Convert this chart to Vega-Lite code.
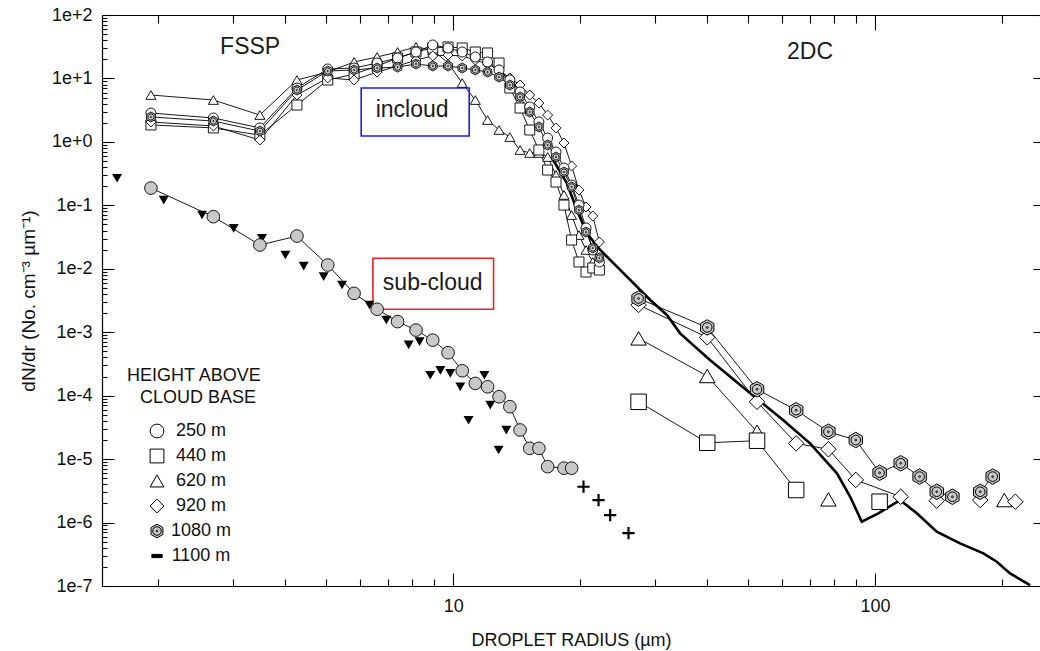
{
"$schema": "https://vega.github.io/schema/vega-lite/v6.json",
"width": 938,
"height": 571,
"autosize": {"type": "none"},
"padding": {"left": 102, "top": 15, "right": 0, "bottom": 65},
"background": "white",
"config": {
  "view": {"stroke": null},
  "font": "Liberation Sans",
  "axis": {"grid": false, "labelFont": "Liberation Sans", "titleFont": "Liberation Sans", "labelColor": "#111111", "titleColor": "#111111", "domainColor": "#000000", "tickColor": "#000000", "domainWidth": 1.2, "tickWidth": 1.1, "titleFontWeight": "normal", "labelOverlap": false, "labelFlush": false, "labelBound": false},
  "legend": {"labelFont": "Liberation Sans", "titleFont": "Liberation Sans"}
},
"datasets": {
  "incloud": [
    {"height":"620 m","probe":"FSSP","seg":"620F","r":1.92,"dNdr":5.48},
    {"height":"620 m","probe":"FSSP","seg":"620F","r":2.7,"dNdr":4.57},
    {"height":"620 m","probe":"FSSP","seg":"620F","r":3.48,"dNdr":2.65},
    {"height":"620 m","probe":"FSSP","seg":"620F","r":4.26,"dNdr":9.45},
    {"height":"620 m","probe":"FSSP","seg":"620F","r":5.04,"dNdr":12.6},
    {"height":"620 m","probe":"FSSP","seg":"620F","r":5.82,"dNdr":18.2},
    {"height":"620 m","probe":"FSSP","seg":"620F","r":6.6,"dNdr":21.8},
    {"height":"620 m","probe":"FSSP","seg":"620F","r":7.38,"dNdr":26.1},
    {"height":"620 m","probe":"FSSP","seg":"620F","r":8.16,"dNdr":31.3},
    {"height":"620 m","probe":"FSSP","seg":"620F","r":8.94,"dNdr":28.0},
    {"height":"620 m","probe":"FSSP","seg":"620F","r":9.72,"dNdr":17.5},
    {"height":"620 m","probe":"FSSP","seg":"620F","r":10.5,"dNdr":8.47},
    {"height":"620 m","probe":"FSSP","seg":"620F","r":11.28,"dNdr":4.57},
    {"height":"620 m","probe":"FSSP","seg":"620F","r":12.06,"dNdr":2.21},
    {"height":"620 m","probe":"FSSP","seg":"620F","r":12.84,"dNdr":1.54},
    {"height":"620 m","probe":"FSSP","seg":"620F","r":13.62,"dNdr":1.19},
    {"height":"620 m","probe":"FSSP","seg":"620F","r":14.4,"dNdr":0.745},
    {"height":"620 m","probe":"FSSP","seg":"620F","r":15.18,"dNdr":0.668},
    {"height":"620 m","probe":"FSSP","seg":"620F","r":15.96,"dNdr":0.668},
    {"height":"620 m","probe":"FSSP","seg":"620F","r":16.74,"dNdr":0.578},
    {"height":"620 m","probe":"FSSP","seg":"620F","r":17.52,"dNdr":0.301},
    {"height":"620 m","probe":"FSSP","seg":"620F","r":18.3,"dNdr":0.146},
    {"height":"620 m","probe":"FSSP","seg":"620F","r":19.08,"dNdr":0.0703},
    {"height":"620 m","probe":"FSSP","seg":"620F","r":19.86,"dNdr":0.034},
    {"height":"620 m","probe":"FSSP","seg":"620F","r":20.64,"dNdr":0.0198},
    {"height":"620 m","probe":"FSSP","seg":"620F","r":21.42,"dNdr":0.0128},
    {"height":"620 m","probe":"FSSP","seg":"620F","r":22.2,"dNdr":0.0103},
    {"height":"440 m","probe":"FSSP","seg":"440F","r":1.92,"dNdr":1.85},
    {"height":"440 m","probe":"FSSP","seg":"440F","r":2.7,"dNdr":1.66},
    {"height":"440 m","probe":"FSSP","seg":"440F","r":3.48,"dNdr":1.28},
    {"height":"440 m","probe":"FSSP","seg":"440F","r":4.26,"dNdr":3.81},
    {"height":"440 m","probe":"FSSP","seg":"440F","r":5.04,"dNdr":9.45},
    {"height":"440 m","probe":"FSSP","seg":"440F","r":5.82,"dNdr":11.7},
    {"height":"440 m","probe":"FSSP","seg":"440F","r":6.6,"dNdr":15.7},
    {"height":"440 m","probe":"FSSP","seg":"440F","r":7.38,"dNdr":21.0},
    {"height":"440 m","probe":"FSSP","seg":"440F","r":8.16,"dNdr":26.1},
    {"height":"440 m","probe":"FSSP","seg":"440F","r":8.94,"dNdr":30.2},
    {"height":"440 m","probe":"FSSP","seg":"440F","r":9.72,"dNdr":31.3},
    {"height":"440 m","probe":"FSSP","seg":"440F","r":10.5,"dNdr":30.2},
    {"height":"440 m","probe":"FSSP","seg":"440F","r":11.28,"dNdr":26.1},
    {"height":"440 m","probe":"FSSP","seg":"440F","r":12.06,"dNdr":25.2},
    {"height":"440 m","probe":"FSSP","seg":"440F","r":12.84,"dNdr":17.5},
    {"height":"440 m","probe":"FSSP","seg":"440F","r":13.62,"dNdr":7.06},
    {"height":"440 m","probe":"FSSP","seg":"440F","r":14.4,"dNdr":3.42},
    {"height":"440 m","probe":"FSSP","seg":"440F","r":15.18,"dNdr":1.54},
    {"height":"440 m","probe":"FSSP","seg":"440F","r":15.96,"dNdr":0.745},
    {"height":"440 m","probe":"FSSP","seg":"440F","r":16.74,"dNdr":0.36},
    {"height":"440 m","probe":"FSSP","seg":"440F","r":17.52,"dNdr":0.233},
    {"height":"440 m","probe":"FSSP","seg":"440F","r":18.3,"dNdr":0.101},
    {"height":"440 m","probe":"FSSP","seg":"440F","r":19.08,"dNdr":0.0284},
    {"height":"440 m","probe":"FSSP","seg":"440F","r":19.86,"dNdr":0.0128},
    {"height":"440 m","probe":"FSSP","seg":"440F","r":20.64,"dNdr":0.00889},
    {"height":"440 m","probe":"FSSP","seg":"440F","r":21.42,"dNdr":0.0103},
    {"height":"440 m","probe":"FSSP","seg":"440F","r":22.2,"dNdr":0.00955},
    {"height":"920 m","probe":"FSSP","seg":"920F","r":1.92,"dNdr":2.06},
    {"height":"920 m","probe":"FSSP","seg":"920F","r":2.7,"dNdr":1.78},
    {"height":"920 m","probe":"FSSP","seg":"920F","r":3.48,"dNdr":1.07},
    {"height":"920 m","probe":"FSSP","seg":"920F","r":4.26,"dNdr":5.48},
    {"height":"920 m","probe":"FSSP","seg":"920F","r":5.04,"dNdr":10.2},
    {"height":"920 m","probe":"FSSP","seg":"920F","r":5.82,"dNdr":9.45},
    {"height":"920 m","probe":"FSSP","seg":"920F","r":6.6,"dNdr":12.6},
    {"height":"920 m","probe":"FSSP","seg":"920F","r":7.38,"dNdr":15.7},
    {"height":"920 m","probe":"FSSP","seg":"920F","r":8.16,"dNdr":19.5},
    {"height":"920 m","probe":"FSSP","seg":"920F","r":8.94,"dNdr":22.6},
    {"height":"920 m","probe":"FSSP","seg":"920F","r":9.72,"dNdr":23.4},
    {"height":"920 m","probe":"FSSP","seg":"920F","r":10.5,"dNdr":22.6},
    {"height":"920 m","probe":"FSSP","seg":"920F","r":11.28,"dNdr":19.5},
    {"height":"920 m","probe":"FSSP","seg":"920F","r":12.06,"dNdr":16.9},
    {"height":"920 m","probe":"FSSP","seg":"920F","r":12.84,"dNdr":13.6},
    {"height":"920 m","probe":"FSSP","seg":"920F","r":13.62,"dNdr":10.2},
    {"height":"920 m","probe":"FSSP","seg":"920F","r":14.4,"dNdr":7.88},
    {"height":"920 m","probe":"FSSP","seg":"920F","r":15.18,"dNdr":5.48},
    {"height":"920 m","probe":"FSSP","seg":"920F","r":15.96,"dNdr":4.1},
    {"height":"920 m","probe":"FSSP","seg":"920F","r":16.74,"dNdr":2.65},
    {"height":"920 m","probe":"FSSP","seg":"920F","r":17.52,"dNdr":1.66},
    {"height":"920 m","probe":"FSSP","seg":"920F","r":18.3,"dNdr":0.96},
    {"height":"920 m","probe":"FSSP","seg":"920F","r":19.08,"dNdr":0.417},
    {"height":"920 m","probe":"FSSP","seg":"920F","r":19.86,"dNdr":0.174},
    {"height":"920 m","probe":"FSSP","seg":"920F","r":20.64,"dNdr":0.0942},
    {"height":"920 m","probe":"FSSP","seg":"920F","r":21.42,"dNdr":0.0679},
    {"height":"920 m","probe":"FSSP","seg":"920F","r":22.2,"dNdr":0.0264},
    {"height":"250 m","probe":"FSSP","seg":"250F","r":1.92,"dNdr":2.85},
    {"height":"250 m","probe":"FSSP","seg":"250F","r":2.7,"dNdr":2.38},
    {"height":"250 m","probe":"FSSP","seg":"250F","r":3.48,"dNdr":1.66},
    {"height":"250 m","probe":"FSSP","seg":"250F","r":4.26,"dNdr":7.06},
    {"height":"250 m","probe":"FSSP","seg":"250F","r":5.04,"dNdr":14.1},
    {"height":"250 m","probe":"FSSP","seg":"250F","r":5.82,"dNdr":14.6},
    {"height":"250 m","probe":"FSSP","seg":"250F","r":6.6,"dNdr":17.5},
    {"height":"250 m","probe":"FSSP","seg":"250F","r":7.38,"dNdr":21.0},
    {"height":"250 m","probe":"FSSP","seg":"250F","r":8.16,"dNdr":26.1},
    {"height":"250 m","probe":"FSSP","seg":"250F","r":8.94,"dNdr":33.7},
    {"height":"250 m","probe":"FSSP","seg":"250F","r":9.72,"dNdr":30.2},
    {"height":"250 m","probe":"FSSP","seg":"250F","r":10.5,"dNdr":26.1},
    {"height":"250 m","probe":"FSSP","seg":"250F","r":11.28,"dNdr":21.8},
    {"height":"250 m","probe":"FSSP","seg":"250F","r":12.06,"dNdr":18.2},
    {"height":"250 m","probe":"FSSP","seg":"250F","r":12.84,"dNdr":13.6},
    {"height":"250 m","probe":"FSSP","seg":"250F","r":13.62,"dNdr":9.45},
    {"height":"250 m","probe":"FSSP","seg":"250F","r":14.4,"dNdr":6.11},
    {"height":"250 m","probe":"FSSP","seg":"250F","r":15.18,"dNdr":3.55},
    {"height":"250 m","probe":"FSSP","seg":"250F","r":15.96,"dNdr":2.06},
    {"height":"250 m","probe":"FSSP","seg":"250F","r":16.74,"dNdr":1.15},
    {"height":"250 m","probe":"FSSP","seg":"250F","r":17.52,"dNdr":0.693},
    {"height":"250 m","probe":"FSSP","seg":"250F","r":18.3,"dNdr":0.387},
    {"height":"250 m","probe":"FSSP","seg":"250F","r":19.08,"dNdr":0.209},
    {"height":"250 m","probe":"FSSP","seg":"250F","r":19.86,"dNdr":0.101},
    {"height":"250 m","probe":"FSSP","seg":"250F","r":20.64,"dNdr":0.044},
    {"height":"250 m","probe":"FSSP","seg":"250F","r":21.42,"dNdr":0.0198},
    {"height":"250 m","probe":"FSSP","seg":"250F","r":22.2,"dNdr":0.0128},
    {"height":"1080 m","probe":"FSSP","seg":"1080F","r":1.92,"dNdr":2.47},
    {"height":"1080 m","probe":"FSSP","seg":"1080F","r":2.7,"dNdr":2.13},
    {"height":"1080 m","probe":"FSSP","seg":"1080F","r":3.48,"dNdr":1.48},
    {"height":"1080 m","probe":"FSSP","seg":"1080F","r":4.26,"dNdr":6.57},
    {"height":"1080 m","probe":"FSSP","seg":"1080F","r":5.04,"dNdr":13.1},
    {"height":"1080 m","probe":"FSSP","seg":"1080F","r":5.82,"dNdr":13.6},
    {"height":"1080 m","probe":"FSSP","seg":"1080F","r":6.6,"dNdr":14.6},
    {"height":"1080 m","probe":"FSSP","seg":"1080F","r":7.38,"dNdr":15.1},
    {"height":"1080 m","probe":"FSSP","seg":"1080F","r":8.16,"dNdr":16.9},
    {"height":"1080 m","probe":"FSSP","seg":"1080F","r":8.94,"dNdr":15.7},
    {"height":"1080 m","probe":"FSSP","seg":"1080F","r":9.72,"dNdr":15.7},
    {"height":"1080 m","probe":"FSSP","seg":"1080F","r":10.5,"dNdr":14.6},
    {"height":"1080 m","probe":"FSSP","seg":"1080F","r":11.28,"dNdr":13.6},
    {"height":"1080 m","probe":"FSSP","seg":"1080F","r":12.06,"dNdr":12.6},
    {"height":"1080 m","probe":"FSSP","seg":"1080F","r":12.84,"dNdr":10.5},
    {"height":"1080 m","probe":"FSSP","seg":"1080F","r":13.62,"dNdr":7.88},
    {"height":"1080 m","probe":"FSSP","seg":"1080F","r":14.4,"dNdr":5.1},
    {"height":"1080 m","probe":"FSSP","seg":"1080F","r":15.18,"dNdr":2.96},
    {"height":"1080 m","probe":"FSSP","seg":"1080F","r":15.96,"dNdr":1.72},
    {"height":"1080 m","probe":"FSSP","seg":"1080F","r":16.74,"dNdr":0.893},
    {"height":"1080 m","probe":"FSSP","seg":"1080F","r":17.52,"dNdr":0.578},
    {"height":"1080 m","probe":"FSSP","seg":"1080F","r":18.3,"dNdr":0.335},
    {"height":"1080 m","probe":"FSSP","seg":"1080F","r":19.08,"dNdr":0.195},
    {"height":"1080 m","probe":"FSSP","seg":"1080F","r":19.86,"dNdr":0.0843},
    {"height":"1080 m","probe":"FSSP","seg":"1080F","r":20.64,"dNdr":0.0379},
    {"height":"1080 m","probe":"FSSP","seg":"1080F","r":21.42,"dNdr":0.0212},
    {"height":"1080 m","probe":"FSSP","seg":"1080F","r":22.2,"dNdr":0.0148},
    {"height":"620 m","probe":"2DC","seg":"620D","r":27.5,"dNdr":0.0008},
    {"height":"620 m","probe":"2DC","seg":"620D","r":40,"dNdr":0.000204},
    {"height":"620 m","probe":"2DC","seg":"620D","r":52.5,"dNdr":0.000027},
    {"height":"620 m","probe":"2DC","seg":"620D2","r":77.5,"dNdr":0.00000232},
    {"height":"620 m","probe":"2DC","seg":"620D3","r":202.5,"dNdr":0.00000226},
    {"height":"440 m","probe":"2DC","seg":"440D","r":27.5,"dNdr":0.00008},
    {"height":"440 m","probe":"2DC","seg":"440D","r":40,"dNdr":0.0000181},
    {"height":"440 m","probe":"2DC","seg":"440D","r":52.5,"dNdr":0.0000195},
    {"height":"440 m","probe":"2DC","seg":"440D","r":65,"dNdr":0.00000326},
    {"height":"440 m","probe":"2DC","seg":"440D2","r":102.5,"dNdr":0.00000213},
    {"height":"920 m","probe":"2DC","seg":"920D","r":27.5,"dNdr":0.00269},
    {"height":"920 m","probe":"2DC","seg":"920D","r":40,"dNdr":0.00083},
    {"height":"920 m","probe":"2DC","seg":"920D","r":52.5,"dNdr":0.00008},
    {"height":"920 m","probe":"2DC","seg":"920D","r":65,"dNdr":0.0000177},
    {"height":"920 m","probe":"2DC","seg":"920D","r":77.5,"dNdr":0.0000143},
    {"height":"920 m","probe":"2DC","seg":"920D","r":90,"dNdr":0.0000047},
    {"height":"920 m","probe":"2DC","seg":"920D","r":115,"dNdr":0.00000255},
    {"height":"920 m","probe":"2DC","seg":"920D2","r":140,"dNdr":0.00000221},
    {"height":"920 m","probe":"2DC","seg":"920D3","r":177.5,"dNdr":0.00000226},
    {"height":"920 m","probe":"2DC","seg":"920D4","r":215,"dNdr":0.00000213},
    {"height":"1080 m","probe":"2DC","seg":"1080D","r":27.5,"dNdr":0.0034},
    {"height":"1080 m","probe":"2DC","seg":"1080D","r":40,"dNdr":0.00119},
    {"height":"1080 m","probe":"2DC","seg":"1080D","r":52.5,"dNdr":0.000126},
    {"height":"1080 m","probe":"2DC","seg":"1080D","r":65,"dNdr":0.000059},
    {"height":"1080 m","probe":"2DC","seg":"1080D","r":77.5,"dNdr":0.000027},
    {"height":"1080 m","probe":"2DC","seg":"1080D","r":90,"dNdr":0.00002},
    {"height":"1080 m","probe":"2DC","seg":"1080D","r":102.5,"dNdr":0.0000061},
    {"height":"1080 m","probe":"2DC","seg":"1080D","r":115,"dNdr":0.0000086},
    {"height":"1080 m","probe":"2DC","seg":"1080D","r":127.5,"dNdr":0.0000053},
    {"height":"1080 m","probe":"2DC","seg":"1080D","r":140,"dNdr":0.00000306},
    {"height":"1080 m","probe":"2DC","seg":"1080D","r":152.5,"dNdr":0.00000255},
    {"height":"1080 m","probe":"2DC","seg":"1080D2","r":177.5,"dNdr":0.00000306},
    {"height":"1080 m","probe":"2DC","seg":"1080D2","r":190,"dNdr":0.0000053}
  ],
  "cloud1100": [
    {"r":17.26,"dNdr":0.518},{"r":18.6,"dNdr":0.222},{"r":19.64,"dNdr":0.0843},{"r":20.74,"dNdr":0.0362},
    {"r":22.3,"dNdr":0.0198},{"r":24.43,"dNdr":0.0108},{"r":25.8,"dNdr":0.0075},{"r":29.3,"dNdr":0.00322},
    {"r":32.1,"dNdr":0.00187},{"r":34.5,"dNdr":0.00096},{"r":40.6,"dNdr":0.000365},{"r":50.6,"dNdr":0.000109},
    {"r":60.6,"dNdr":0.000041},{"r":70.1,"dNdr":0.0000177},{"r":81.2,"dNdr":0.00000597},{"r":87.3,"dNdr":0.00000255},
    {"r":93.0,"dNdr":0.00000103},{"r":101.8,"dNdr":0.0000014},{"r":114.6,"dNdr":0.00000226},{"r":125.6,"dNdr":0.0000014},
    {"r":140.0,"dNdr":0.00000072},{"r":159.0,"dNdr":0.00000047},{"r":180.6,"dNdr":0.000000327},{"r":194.3,"dNdr":0.000000241},
    {"r":208.9,"dNdr":0.000000158},{"r":233,"dNdr":0.000000103}
  ],
  "subcircles": [
    {"r":1.92,"dNdr":0.187},{"r":2.7,"dNdr":0.0662},{"r":3.48,"dNdr":0.0237},{"r":4.26,"dNdr":0.0328},
    {"r":5.04,"dNdr":0.01146},{"r":5.82,"dNdr":0.0041},{"r":6.6,"dNdr":0.0023},{"r":7.38,"dNdr":0.00147},
    {"r":8.16,"dNdr":0.00108},{"r":8.94,"dNdr":0.00075},{"r":9.72,"dNdr":0.000475},{"r":10.5,"dNdr":0.000247},
    {"r":11.28,"dNdr":0.000156},{"r":12.06,"dNdr":0.000138},{"r":12.84,"dNdr":0.000096},{"r":13.62,"dNdr":0.000067},
    {"r":14.4,"dNdr":0.0000288},{"r":15.18,"dNdr":0.0000148},{"r":15.96,"dNdr":0.0000148},{"r":16.74,"dNdr":0.0000076},
    {"r":18.3,"dNdr":0.0000072},{"r":19.08,"dNdr":0.0000072}
  ],
  "subtriangles": [
    {"r":1.596,"dNdr":0.267},{"r":2.059,"dNdr":0.121},{"r":2.538,"dNdr":0.0703},{"r":3.016,"dNdr":0.0434},
    {"r":3.521,"dNdr":0.0302},{"r":4.0,"dNdr":0.0165},{"r":4.42,"dNdr":0.011},{"r":4.93,"dNdr":0.0075},
    {"r":5.45,"dNdr":0.00555},{"r":6.33,"dNdr":0.00269},{"r":6.94,"dNdr":0.00156},{"r":7.84,"dNdr":0.00063},
    {"r":8.32,"dNdr":0.00071},{"r":8.82,"dNdr":0.00021},{"r":9.32,"dNdr":0.00025},{"r":9.84,"dNdr":0.000225},
    {"r":10.39,"dNdr":0.000138},{"r":10.87,"dNdr":0.000041},{"r":11.85,"dNdr":0.00021},{"r":12.24,"dNdr":0.000071},
    {"r":12.81,"dNdr":0.0000139},{"r":13.36,"dNdr":0.0000287}
  ],
  "subplus": [
    {"r":20.36,"dNdr":0.00000367},{"r":22.1,"dNdr":0.00000226},{"r":23.55,"dNdr":0.00000131},{"r":26.03,"dNdr":0.00000068}
  ],
  "boxes": [
    {"label":"incloud","x1":6.05,"x2":10.91,"y1":7.06,"y2":1.24},
    {"label":"sub-cloud","x1":6.45,"x2":12.46,"y1":0.01462,"y2":0.002296}
  ],
  "notes": [
    {"label":"FSSP","x":3.3,"y":31.3},
    {"label":"2DC","x":70.1,"y":26.1},
    {"label":"incloud","x":7.99,"y":3.18},
    {"label":"sub-cloud","x":8.94,"y":0.00596}
  ]
},
"layer": [
  {
    "data": {"name": "incloud"},
    "mark": {"type": "line", "color": "#000000", "strokeWidth": 0.9, "clip": true},
    "encoding": {
      "x": {"field": "r", "type": "quantitative", "scale": {"type": "log", "domain": [1.47, 246], "nice": false},
        "axis": {"orient": "bottom", "values": [2,3,4,5,6,7,8,9,10,20,30,40,50,60,70,80,90,100,200],
          "labelExpr": "datum.value == 10 ? '10' : (datum.value == 100 ? '100' : '')",
          "tickSize": {"condition": {"test": "datum.value == 10 || datum.value == 100", "value": -13}, "value": -7},
          "labelPadding": 24, "labelFontSize": 18, "title": "DROPLET RADIUS (µm)", "titleFontSize": 18, "titlePadding": 10}},
      "y": {"field": "dNdr", "type": "quantitative", "scale": {"type": "log", "domain": [1e-7, 100], "nice": false},
        "axis": {"orient": "left",
          "values": [1e-7,2e-7,3e-7,4e-7,5e-7,6e-7,7e-7,8e-7,9e-7,1e-6,2e-6,3e-6,4e-6,5e-6,6e-6,7e-6,8e-6,9e-6,1e-5,2e-5,3e-5,4e-5,5e-5,6e-5,7e-5,8e-5,9e-5,1e-4,2e-4,3e-4,4e-4,5e-4,6e-4,7e-4,8e-4,9e-4,0.001,0.002,0.003,0.004,0.005,0.006,0.007,0.008,0.009,0.01,0.02,0.03,0.04,0.05,0.06,0.07,0.08,0.09,0.1,0.2,0.3,0.4,0.5,0.6,0.7,0.8,0.9,1,2,3,4,5,6,7,8,9,10,20,30,40,50,60,70,80,90,100],
          "labelExpr": "abs(log(datum.value)/LN10 - round(log(datum.value)/LN10)) < 0.01 ? format(datum.value, '.0e') : ''",
          "tickSize": {"condition": {"test": "abs(log(datum.value)/LN10 - round(log(datum.value)/LN10)) < 0.01", "value": -12}, "value": -5},
          "labelPadding": 22, "labelFontSize": 18, "title": "dN/dr (No. cm⁻³ µm⁻¹)", "titleFontSize": 19, "titlePadding": 13}},
      "detail": {"field": "seg", "type": "nominal"}
    }
  },
  {
    "data": {"name": "cloud1100"},
    "mark": {"type": "line", "color": "#000000", "strokeWidth": 2.6, "clip": true},
    "encoding": {
      "x": {"field": "r", "type": "quantitative", "scale": {"type": "log", "domain": [1.47, 246], "nice": false},
        "axis": {"orient": "top", "values": [2,3,4,5,6,7,8,9,10,20,30,40,50,60,70,80,90,100,200], "labels": false, "title": null,
          "tickSize": {"condition": {"test": "datum.value == 10 || datum.value == 100", "value": -15}, "value": -8}}},
      "y": {"field": "dNdr", "type": "quantitative", "scale": {"type": "log", "domain": [1e-7, 100], "nice": false},
        "axis": {"orient": "right", "values": [1e-7,1e-6,1e-5,1e-4,0.001,0.01,0.1,1,10,100], "labels": false, "domain": false, "title": null, "tickSize": -7}}
    }
  },
  {
    "data": {"name": "subcircles"},
    "mark": {"type": "line", "color": "#000000", "strokeWidth": 0.9, "clip": true},
    "encoding": {
      "x": {"field": "r", "type": "quantitative", "scale": {"type": "log", "domain": [1.47, 246], "nice": false}, "axis": null},
      "y": {"field": "dNdr", "type": "quantitative", "scale": {"type": "log", "domain": [1e-7, 100], "nice": false}, "axis": null}
    }
  },
  {
    "data": {"name": "boxes"},
    "transform": [{"filter": "datum.label == 'incloud'"}],
    "mark": {"type": "rect", "fill": "white", "fillOpacity": 0, "stroke": "#1a1aff", "strokeWidth": 1.6},
    "encoding": {
      "x": {"field": "x1", "type": "quantitative", "scale": {"type": "log", "domain": [1.47, 246], "nice": false}, "axis": null},
      "x2": {"field": "x2"},
      "y": {"field": "y1", "type": "quantitative", "scale": {"type": "log", "domain": [1e-7, 100], "nice": false}, "axis": null},
      "y2": {"field": "y2"}
    }
  },
  {
    "data": {"name": "boxes"},
    "transform": [{"filter": "datum.label == 'sub-cloud'"}],
    "mark": {"type": "rect", "fill": "white", "fillOpacity": 0, "stroke": "#ee2020", "strokeWidth": 1.6},
    "encoding": {
      "x": {"field": "x1", "type": "quantitative", "scale": {"type": "log", "domain": [1.47, 246], "nice": false}, "axis": null},
      "x2": {"field": "x2"},
      "y": {"field": "y1", "type": "quantitative", "scale": {"type": "log", "domain": [1e-7, 100], "nice": false}, "axis": null},
      "y2": {"field": "y2"}
    }
  },
  {
    "data": {"name": "subtriangles"},
    "mark": {"type": "point", "shape": "triangle-down", "filled": true, "color": "#000000", "size": 100, "opacity": 1, "clip": true},
    "encoding": {
      "x": {"field": "r", "type": "quantitative", "scale": {"type": "log", "domain": [1.47, 246], "nice": false}, "axis": null},
      "y": {"field": "dNdr", "type": "quantitative", "scale": {"type": "log", "domain": [1e-7, 100], "nice": false}, "axis": null}
    }
  },
  {
    "data": {"name": "subcircles"},
    "mark": {"type": "point", "shape": "circle", "filled": true, "fill": "#c8c8c8", "stroke": "#000000", "strokeWidth": 0.9, "size": 160, "opacity": 1, "clip": true},
    "encoding": {
      "x": {"field": "r", "type": "quantitative", "scale": {"type": "log", "domain": [1.47, 246], "nice": false}, "axis": null},
      "y": {"field": "dNdr", "type": "quantitative", "scale": {"type": "log", "domain": [1e-7, 100], "nice": false}, "axis": null}
    }
  },
  {
    "data": {"name": "subplus"},
    "mark": {"type": "point", "shape": "M-1,0L1,0M0,-1L0,1", "filled": false, "stroke": "#000000", "strokeWidth": 2.2, "size": 150, "opacity": 1, "clip": true},
    "encoding": {
      "x": {"field": "r", "type": "quantitative", "scale": {"type": "log", "domain": [1.47, 246], "nice": false}, "axis": null},
      "y": {"field": "dNdr", "type": "quantitative", "scale": {"type": "log", "domain": [1e-7, 100], "nice": false}, "axis": null}
    }
  },
  {
    "data": {"name": "incloud"},
    "transform": [{"filter": "datum.probe == 'FSSP'"}],
    "mark": {"type": "point", "filled": true, "strokeWidth": 0.9, "size": 100, "opacity": 1, "clip": true},
    "encoding": {
      "x": {"field": "r", "type": "quantitative", "scale": {"type": "log", "domain": [1.47, 246], "nice": false}, "axis": null},
      "y": {"field": "dNdr", "type": "quantitative", "scale": {"type": "log", "domain": [1e-7, 100], "nice": false}, "axis": null},
      "shape": {"field": "height", "type": "nominal",
        "scale": {"domain": ["250 m", "440 m", "620 m", "920 m", "1080 m", "1100 m"],
          "range": ["circle", "square", "triangle-up", "diamond", "M0,-1L0.866,-0.5L0.866,0.5L0,1L-0.866,0.5L-0.866,-0.5Z M0.62,0A0.62,0.62 0 1,1 -0.62,0A0.62,0.62 0 1,1 0.62,0Z M0.12,0A0.12,0.12 0 1,1 -0.12,0A0.12,0.12 0 1,1 0.12,0Z", "M-0.75,-0.24L0.75,-0.24L0.75,0.24L-0.75,0.24Z"]},
        "legend": {"title": ["HEIGHT ABOVE", "\u2800CLOUD BASE"], "orient": "none", "legendX": 25, "legendY": 352, "titleFontSize": 18, "titleFontWeight": "normal", "titleColor": "#111111", "titleAlign": "left", "titleAnchor": "start", "titleLineHeight": 22, "titlePadding": 15, "labelFontSize": 18, "labelColor": "#111111", "labelAlign": "center", "labelOffset": 35, "symbolSize": 190, "symbolStrokeWidth": 1, "symbolOffset": 21, "rowPadding": 7}},
      "fill": {"field": "height", "type": "nominal",
        "scale": {"domain": ["250 m", "440 m", "620 m", "920 m", "1080 m", "1100 m"], "range": ["#ffffff", "#ffffff", "#ffffff", "#ffffff", "#c8c8c8", "#000000"]},
        "legend": {"title": ["HEIGHT ABOVE", "\u2800CLOUD BASE"], "orient": "none", "legendX": 25, "legendY": 352, "titleFontSize": 18, "titleFontWeight": "normal", "titleColor": "#111111", "titleAlign": "left", "titleAnchor": "start", "titleLineHeight": 22, "titlePadding": 15, "labelFontSize": 18, "labelColor": "#111111", "labelAlign": "center", "labelOffset": 35, "symbolSize": 190, "symbolStrokeWidth": 1, "symbolOffset": 21, "rowPadding": 7}},
      "stroke": {"field": "height", "type": "nominal",
        "scale": {"domain": ["250 m", "440 m", "620 m", "920 m", "1080 m", "1100 m"], "range": ["#000000", "#000000", "#000000", "#000000", "#000000", "#000000"]},
        "legend": {"title": ["HEIGHT ABOVE", "\u2800CLOUD BASE"], "orient": "none", "legendX": 25, "legendY": 352, "titleFontSize": 18, "titleFontWeight": "normal", "titleColor": "#111111", "titleAlign": "left", "titleAnchor": "start", "titleLineHeight": 22, "titlePadding": 15, "labelFontSize": 18, "labelColor": "#111111", "labelAlign": "center", "labelOffset": 35, "symbolSize": 190, "symbolStrokeWidth": 1, "symbolOffset": 21, "rowPadding": 7}}
    }
  },
  {
    "data": {"name": "incloud"},
    "transform": [{"filter": "datum.probe == '2DC'"}],
    "mark": {"type": "point", "filled": true, "strokeWidth": 1, "size": 240, "opacity": 1, "clip": true},
    "encoding": {
      "x": {"field": "r", "type": "quantitative", "scale": {"type": "log", "domain": [1.47, 246], "nice": false}, "axis": null},
      "y": {"field": "dNdr", "type": "quantitative", "scale": {"type": "log", "domain": [1e-7, 100], "nice": false}, "axis": null},
      "shape": {"field": "height", "type": "nominal",
        "scale": {"domain": ["250 m", "440 m", "620 m", "920 m", "1080 m", "1100 m"],
          "range": ["circle", "square", "triangle-up", "diamond", "M0,-1L0.866,-0.5L0.866,0.5L0,1L-0.866,0.5L-0.866,-0.5Z M0.62,0A0.62,0.62 0 1,1 -0.62,0A0.62,0.62 0 1,1 0.62,0Z M0.12,0A0.12,0.12 0 1,1 -0.12,0A0.12,0.12 0 1,1 0.12,0Z", "M-0.75,-0.24L0.75,-0.24L0.75,0.24L-0.75,0.24Z"]},
        "legend": {"title": ["HEIGHT ABOVE", "\u2800CLOUD BASE"], "orient": "none", "legendX": 25, "legendY": 352, "titleFontSize": 18, "titleFontWeight": "normal", "titleColor": "#111111", "titleAlign": "left", "titleAnchor": "start", "titleLineHeight": 22, "titlePadding": 15, "labelFontSize": 18, "labelColor": "#111111", "labelAlign": "center", "labelOffset": 35, "symbolSize": 190, "symbolStrokeWidth": 1, "symbolOffset": 21, "rowPadding": 7}},
      "fill": {"field": "height", "type": "nominal",
        "scale": {"domain": ["250 m", "440 m", "620 m", "920 m", "1080 m", "1100 m"], "range": ["#ffffff", "#ffffff", "#ffffff", "#ffffff", "#c8c8c8", "#000000"]},
        "legend": {"title": ["HEIGHT ABOVE", "\u2800CLOUD BASE"], "orient": "none", "legendX": 25, "legendY": 352, "titleFontSize": 18, "titleFontWeight": "normal", "titleColor": "#111111", "titleAlign": "left", "titleAnchor": "start", "titleLineHeight": 22, "titlePadding": 15, "labelFontSize": 18, "labelColor": "#111111", "labelAlign": "center", "labelOffset": 35, "symbolSize": 190, "symbolStrokeWidth": 1, "symbolOffset": 21, "rowPadding": 7}},
      "stroke": {"field": "height", "type": "nominal",
        "scale": {"domain": ["250 m", "440 m", "620 m", "920 m", "1080 m", "1100 m"], "range": ["#000000", "#000000", "#000000", "#000000", "#000000", "#000000"]},
        "legend": {"title": ["HEIGHT ABOVE", "\u2800CLOUD BASE"], "orient": "none", "legendX": 25, "legendY": 352, "titleFontSize": 18, "titleFontWeight": "normal", "titleColor": "#111111", "titleAlign": "left", "titleAnchor": "start", "titleLineHeight": 22, "titlePadding": 15, "labelFontSize": 18, "labelColor": "#111111", "labelAlign": "center", "labelOffset": 35, "symbolSize": 190, "symbolStrokeWidth": 1, "symbolOffset": 21, "rowPadding": 7}}
    }
  },
  {
    "data": {"name": "notes"},
    "mark": {"type": "text", "font": "Liberation Sans", "fontSize": 23, "color": "#1a1a1a", "align": "center", "baseline": "middle"},
    "encoding": {
      "x": {"field": "x", "type": "quantitative", "scale": {"type": "log", "domain": [1.47, 246], "nice": false}, "axis": null},
      "y": {"field": "y", "type": "quantitative", "scale": {"type": "log", "domain": [1e-7, 100], "nice": false}, "axis": null},
      "text": {"field": "label", "type": "nominal"}
    }
  }
],
"resolve": {"axis": {"x": "independent", "y": "independent"}}
}
